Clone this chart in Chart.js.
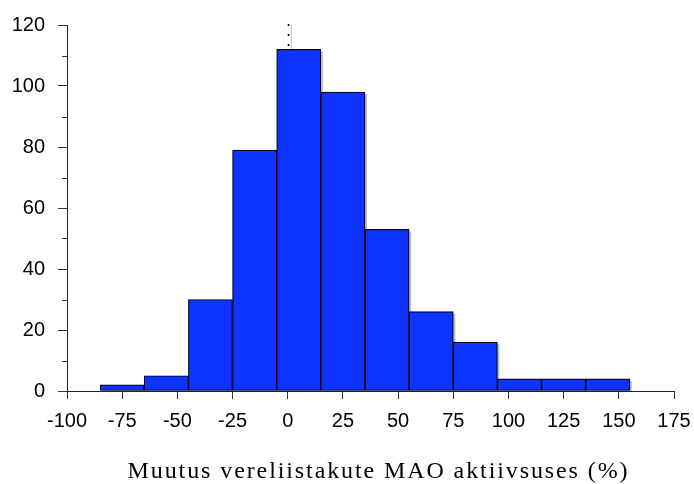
<!DOCTYPE html>
<html>
<head>
<meta charset="utf-8">
<title>MAO aktiivsuse muutus</title>
<script src="https://cdn.jsdelivr.net/npm/chart.js@4.4.0/dist/chart.umd.min.js"></script>
<style>
  html, body { margin: 0; padding: 0; background: #fff; }
  #wrap { width: 694px; height: 484px; }
</style>
</head>
<body>
<div id="wrap"><canvas id="hist" width="694" height="484"></canvas></div>
<script>
// histogram bins are 20 wide, from -85 to 155; values are bin centres
const binCentres = [-75, -55, -35, -15, 5, 25, 45, 65, 85, 105, 125, 145];
const counts = [2, 5, 30, 79, 112, 98, 53, 26, 16, 4, 4, 4];
const xTicks = [-100, -75, -50, -25, 0, 25, 50, 75, 100, 125, 150, 175];
const yTicks = [0, 20, 40, 60, 80, 100, 120];
const yMinorTicks = [10, 30, 50, 70, 90, 110];
const xTitle = 'Muutus vereliistakute MAO aktiivsuses (%)';

const tickFont = { family: '"Liberation Sans", Arial, sans-serif', size: 20 };

// grey drop shadow behind each bar
const barShadow = {
  id: 'barShadow',
  beforeDatasetsDraw(chart) {
    const { ctx, chartArea } = chart;
    const meta = chart.getDatasetMeta(0);
    ctx.save();
    ctx.beginPath();
    ctx.rect(chartArea.left, chartArea.top, chartArea.right - chartArea.left + 4, chartArea.bottom - chartArea.top);
    ctx.clip();
    ctx.fillStyle = '#bdbdbd';
    meta.data.forEach(bar => {
      const p = bar.getProps(['x', 'y', 'base', 'width'], true);
      ctx.fillRect(p.x - p.width / 2 + 2, p.y + 2, p.width, p.base - p.y);
    });
    ctx.restore();
  }
};

// dotted reference line at x = 0
const zeroLine = {
  id: 'zeroLine',
  beforeDatasetsDraw(chart) {
    const { ctx, chartArea } = chart;
    const x0 = chart.scales.x.getPixelForValue(0);
    ctx.save();
    ctx.strokeStyle = '#c8c8c8';
    ctx.lineWidth = 1;
    ctx.beginPath();
    ctx.moveTo(Math.round(x0) + 3.5, chartArea.top);
    ctx.lineTo(Math.round(x0) + 3.5, chartArea.bottom);
    ctx.stroke();
    ctx.strokeStyle = '#000';
    ctx.lineWidth = 1.5;
    ctx.setLineDash([2, 8]);
    ctx.beginPath();
    ctx.moveTo(Math.round(x0) + 0.5, chartArea.top - 1);
    ctx.lineTo(Math.round(x0) + 0.5, chartArea.bottom);
    ctx.stroke();
    ctx.restore();
  }
};

// short minor ticks on the y axis
const minorTicks = {
  id: 'minorTicks',
  afterDraw(chart) {
    const { ctx } = chart;
    const ys = chart.scales.y;
    ctx.save();
    ctx.strokeStyle = '#333';
    ctx.lineWidth = 1;
    yMinorTicks.forEach(v => {
      const py = Math.round(ys.getPixelForValue(v)) + 0.5;
      ctx.beginPath();
      ctx.moveTo(ys.right - 5, py);
      ctx.lineTo(ys.right, py);
      ctx.stroke();
    });
    ctx.restore();
  }
};

// the axis title in the picture is letter-spaced
const spacedTitle = {
  id: 'spacedTitle',
  beforeDraw(chart) {
    const sc = chart.scales.x;
    if (!sc || sc._spaced) return;
    const orig = sc.drawTitle;
    sc.drawTitle = function () {
      this.ctx.save();
      this.ctx.letterSpacing = '1.9px';
      this.ctx.translate(8, 0);
      orig.call(this);
      this.ctx.restore();
    };
    sc._spaced = true;
  }
};

const chart = new Chart(document.getElementById('hist'), {
  type: 'bar',
  data: {
    datasets: [{
      data: binCentres.map((x, i) => ({ x: x, y: counts[i] })),
      backgroundColor: '#1034ff',
      borderColor: '#00001a',
      borderWidth: 1.2,
      borderSkipped: false,
      barPercentage: 1,
      categoryPercentage: 1
    }]
  },
  options: {
    responsive: false,
    animation: false,
    devicePixelRatio: 1,
    layout: { padding: { top: 23, right: 20, left: 0, bottom: 0 } },
    plugins: { legend: { display: false }, tooltip: { enabled: false } },
    scales: {
      x: {
        type: 'linear',
        min: -100,
        max: 175,
        offset: false,
        afterBuildTicks: s => { s.ticks = xTicks.map(v => ({ value: v })); },
        afterFit: s => { s.height = 93; s.paddingRight = 0; s.paddingLeft = 0; },
        grid: { offset: false, drawOnChartArea: false, drawTicks: true, tickLength: 8, tickColor: '#333' },
        border: { display: true, color: '#222', width: 1 },
        ticks: { font: tickFont, color: '#000', padding: 10, maxRotation: 0, autoSkip: false },
        title: {
          display: true,
          text: xTitle,
          color: '#000',
          font: { family: '"Liberation Serif", "Times New Roman", serif', size: 24, lineHeight: 1 },
          padding: { top: 0, bottom: 0 }
        }
      },
      y: {
        min: 0,
        max: 120,
        afterBuildTicks: s => { s.ticks = yTicks.map(v => ({ value: v })); },
        afterFit: s => { s.width = 67; },
        grid: { drawOnChartArea: false, drawTicks: true, tickLength: 9, tickColor: '#333' },
        border: { display: true, color: '#222', width: 1 },
        ticks: { font: tickFont, color: '#000', padding: 13 }
      }
    }
  },
  plugins: [barShadow, zeroLine, minorTicks, spacedTitle]
});
chart.draw();
</script>
</body>
</html>
